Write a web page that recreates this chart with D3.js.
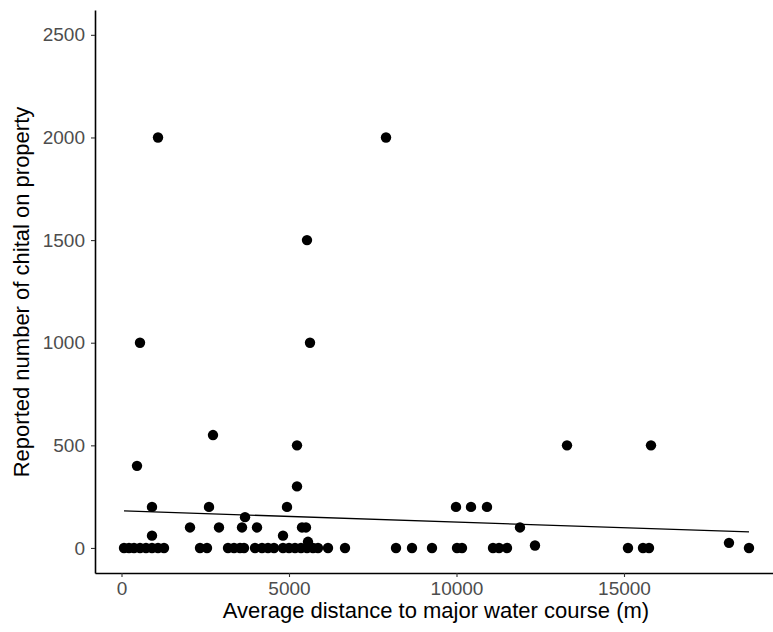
<!DOCTYPE html>
<html lang="en">
<head>
<meta charset="utf-8">
<script src="https://d3js.org/d3.v7.min.js"></script>
<style type="text/css">
body { margin: 0; background: #fff; font-family: "Liberation Sans", Arial, sans-serif; }
.tick text { fill: #4d4d4d; font-size: 19px; font-family: "Liberation Sans", Arial, sans-serif; }
.axis-title { fill: #000; font-size: 22px; font-family: "Liberation Sans", Arial, sans-serif; }
</style>
</head>
<body>
<script type="text/javascript">

// distance to water course (m) and reported chital counts
const distance = [
  75, 224, 373, 552, 731, 910, 1090, 1269, 2343, 2552, 3179, 3358, 3537, 3657,
  3985, 4194, 4373, 4552, 4821, 5000, 5179, 5358, 5537, 5716, 5866, 6164, 6672,
  8194, 8672, 9269, 10015, 10164, 11090, 11269, 11507, 15119, 15567, 15746, 18731,
  1090, 7896, 5537, 5627, 552, 5239, 13299, 15806, 2731, 463, 5239,
  910, 2612, 3687, 4940, 9985, 10433, 10910,
  2045, 2910, 3597, 4045, 5388, 5507, 11895,
  4821, 910, 5567, 12343, 18134
];
const chital = [
  0, 0, 0, 0, 0, 0, 0, 0, 0, 0, 0, 0, 0, 0,
  0, 0, 0, 0, 0, 0, 0, 0, 0, 0, 0, 0, 0,
  0, 0, 0, 0, 0, 0, 0, 0, 0, 0, 0, 0,
  2000, 2000, 1500, 1000, 1000, 500, 500, 500, 550, 400, 300,
  200, 200, 150, 200, 200, 200, 200,
  100, 100, 100, 100, 100, 100, 100,
  60, 60, 30, 12, 25
];

// fitted linear trend
const fitIntercept = 181;
const fitSlope = -0.0055;

const xTicks = [0, 5000, 10000, 15000];
const yTicks = [0, 500, 1000, 1500, 2000, 2500];

const width = 773;
const height = 632;

const svg = d3.select("body")
  .append("svg")
  .attr("width", width)
  .attr("height", height);

const x = d3.scaleLinear().domain([-791, 19448]).range([95, 773]);
const y = d3.scaleLinear().domain([-122, 2621]).range([573, 10]);

const points = distance.map((d, i) => ({ x: d, y: chital[i] }));

// points
svg.append("g")
  .selectAll("circle")
  .data(points)
  .enter()
  .append("circle")
  .attr("cx", d => x(d.x))
  .attr("cy", d => y(d.y))
  .attr("r", 5.2)
  .attr("fill", "#000");

// trend line over the data range
const xExt = d3.extent(distance);
svg.append("path")
  .datum(xExt.map(v => ({ x: v, y: fitIntercept + fitSlope * v })))
  .attr("d", d3.line().x(d => x(d.x)).y(d => y(d.y)))
  .attr("fill", "none")
  .attr("stroke", "#000")
  .attr("stroke-width", 1.3);

// axes
const xAxis = svg.append("g")
  .attr("transform", "translate(0,573)")
  .call(d3.axisBottom(x).tickValues(xTicks).tickSizeInner(4).tickSizeOuter(0).tickPadding(5).tickFormat(d3.format("d")));
const yAxis = svg.append("g")
  .attr("transform", "translate(95,0)")
  .call(d3.axisLeft(y).tickValues(yTicks).tickSizeInner(4).tickSizeOuter(0).tickPadding(6).tickFormat(d3.format("d")));

[xAxis, yAxis].forEach(a => {
  a.select(".domain").attr("stroke", "#000").attr("stroke-width", 1.6);
  a.selectAll(".tick line").attr("stroke", "#333").attr("stroke-width", 1.1);
});

svg.append("text")
  .attr("class", "axis-title")
  .attr("x", 436)
  .attr("y", 618)
  .attr("text-anchor", "middle")
  .text("Average distance to major water course (m)");

svg.append("text")
  .attr("class", "axis-title")
  .attr("transform", "translate(29,292) rotate(-90)")
  .attr("text-anchor", "middle")
  .text("Reported number of chital on property");

</script>
</body>
</html>
